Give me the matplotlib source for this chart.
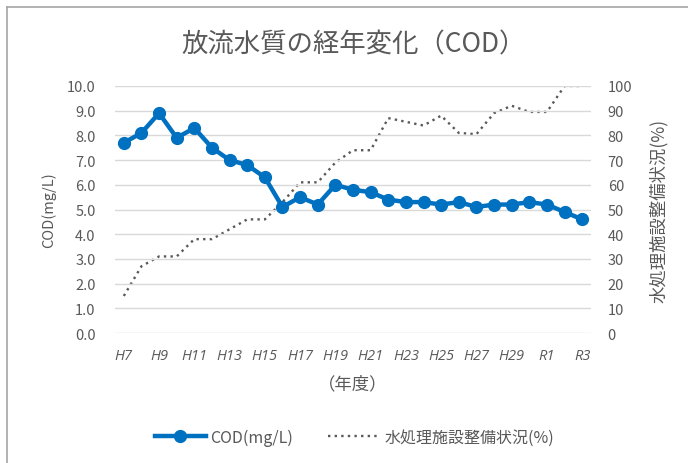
import numpy as np
import matplotlib
matplotlib.use('Agg')
import matplotlib.pyplot as plt
from matplotlib.lines import Line2D

plt.rcParams['font.family'] = ['Noto Sans CJK JP', 'DejaVu Sans']

years = ['H7', 'H8', 'H9', 'H10', 'H11', 'H12', 'H13', 'H14', 'H15', 'H16',
         'H17', 'H18', 'H19', 'H20', 'H21', 'H22', 'H23', 'H24', 'H25', 'H26',
         'H27', 'H28', 'H29', 'H30', 'R1', 'R2', 'R3']
cod = [7.7, 8.1, 8.9, 7.9, 8.3, 7.5, 7.0, 6.8, 6.3, 5.1,
       5.5, 5.2, 6.0, 5.8, 5.7, 5.4, 5.3, 5.3, 5.2, 5.3,
       5.1, 5.2, 5.2, 5.3, 5.2, 4.9, 4.6]
seibi = [15, 27, 31, 31, 38, 38, 42, 46, 46, 53,
         61, 61, 69, 74, 74, 87, 85.5, 84, 88, 81,
         80.5, 89, 92, 89.5, 89.5, 100, 100]

gray = '#595959'
blue = '#0070C0'

fig = plt.figure(figsize=(6.88, 4.64), dpi=100)
ax1 = fig.add_axes([115 / 688, 1 - 334 / 464, 476 / 688, 247 / 464])
ax2 = ax1.twinx()

x = np.arange(len(years))

ax2.plot(x, seibi, color=gray, linestyle=(0, (1, 1.8)), linewidth=1.7, zorder=2)
ax1.plot(x, cod, color=blue, linewidth=3.2, marker='o', markersize=8.5, zorder=3)
ax1.set_zorder(ax2.get_zorder() + 1)
ax1.patch.set_visible(False)

ax1.set_xlim(-0.5, len(years) - 0.5)
ax1.set_ylim(0, 10)
ax2.set_ylim(0, 100)
ax1.set_yticks(np.arange(0, 10.1, 1))
ax1.set_yticklabels(['%.1f' % v for v in np.arange(0, 10.1, 1)])
ax2.set_yticks(np.arange(0, 101, 10))

ax1.set_xticks(x[::2])
ax1.set_xticklabels(years[::2], fontstyle='italic', fontsize=8.5, color=gray,
                    family=['Open Sans', 'DejaVu Sans'])

ax1.grid(axis='y', color='#d9d9d9', linewidth=1)
ax1.set_axisbelow(True)
for a in (ax1, ax2):
    for s in a.spines.values():
        s.set_visible(False)
    a.tick_params(length=0, colors=gray, labelsize=10.5)
ax1.tick_params(axis='x', pad=11)
ax1.tick_params(axis='y', pad=14)
ax2.tick_params(axis='y', pad=12)

ax1.set_ylabel('COD(mg/L)', color=gray, fontsize=10.5, labelpad=8)
ax2.set_ylabel('水処理施設整備状況(%)', color=gray, fontsize=12.5, labelpad=12)
ax1.set_xlabel('（年度）', color=gray, fontsize=12.5, labelpad=8)

fig.text(354 / 688, 1 - 45 / 464, '放流水質の経年変化（COD）', ha='center', va='center',
         fontsize=19, color=gray)

handles = [Line2D([], [], color=blue, linewidth=3.2, marker='o', markersize=8.5),
           Line2D([], [], color=gray, linestyle=(0, (1, 1.8)), linewidth=1.7)]
fig.legend(handles, ['COD(mg/L)', '水処理施設整備状況(%)'], loc='center',
           bbox_to_anchor=(0.515, 1 - 438 / 464), ncol=2, frameon=False,
           fontsize=11.5, labelcolor=gray, handlelength=3.2, columnspacing=2.2,
           handletextpad=0.3)

# chart frame
fig.add_artist(Line2D([7 / 688, 7 / 688], [0, 1 - 8 / 464], color='#a6a6a6', linewidth=1.2))
fig.add_artist(Line2D([7 / 688, 1], [1 - 8 / 464, 1 - 8 / 464], color='#a6a6a6', linewidth=1.2))

fig.savefig('out.png', dpi=100)
